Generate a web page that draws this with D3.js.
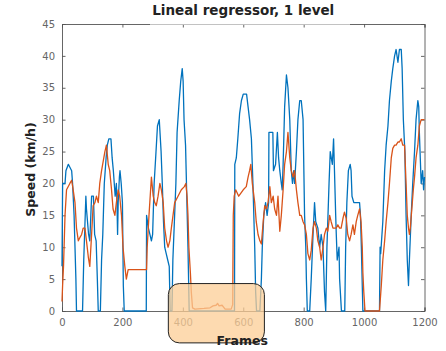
<!DOCTYPE html>
<html>
<head>
<meta charset="utf-8">
<script src="https://cdn.jsdelivr.net/npm/d3@7"></script>
<style>
  body { margin: 0; background: #fff; }
  text { font-family: 'DejaVu Sans', sans-serif; }
</style>
</head>
<body>
<div id="chart"></div>
<script>
// ground truth speed (blue)
const truthFrames = [0, 2, 10, 13, 21, 32, 35, 40, 46, 48, 68, 72, 79, 81, 88, 92, 98, 104, 108, 113, 117, 120, 127, 131, 135, 140, 146, 150, 155, 162, 166, 170, 173, 176, 180, 182, 184, 186, 190, 192, 196, 200, 203, 206, 279, 280, 286, 291, 296, 300, 305, 310, 316, 322, 328, 332, 336, 340, 345, 350, 355, 358, 364, 367, 372, 377, 381, 388, 393, 398, 401, 404, 409, 412, 417, 421, 571, 572, 577, 582, 588, 594, 600, 611, 616, 621, 627, 632, 638, 641, 644, 655, 660, 663, 668, 674, 679, 684, 685, 698, 700, 707, 713, 717, 721, 726, 729, 732, 737, 743, 748, 754, 759, 763, 767, 770, 776, 781, 787, 792, 798, 803, 807, 809, 812, 820, 825, 831, 836, 840, 847, 853, 858, 864, 869, 873, 877, 884, 888, 895, 899, 902, 906, 908, 911, 917, 919, 925, 936, 939, 943, 948, 954, 957, 960, 966, 979, 985, 988, 991, 996, 1051, 1053, 1055, 1062, 1068, 1073, 1079, 1084, 1090, 1095, 1101, 1106, 1112, 1117, 1123, 1126, 1130, 1135, 1139, 1143, 1147, 1150, 1156, 1161, 1167, 1172, 1178, 1181, 1183, 1189, 1194, 1197, 1200];
const truthSpeed = [7, 20, 20, 22, 23, 22, 20, 15, 5, 0, 0, 8, 18, 16, 12, 11, 18, 18, 12, 11, 5, 0, 0, 8, 12, 20, 24, 26, 27, 27, 24, 22, 20, 18, 20, 17, 12, 17, 21, 22, 20, 17, 4, 0, 0, 15, 13, 12, 11, 12, 20, 24, 29, 30, 25, 20, 14, 10, 9, 8, 7, 0, 0, 8, 14, 20, 28, 33, 36, 38, 36, 30, 26, 20, 10, 0, 0, 23, 24, 27, 31, 33, 34, 34, 32, 30, 27, 20, 10, 3, 0, 0, 5, 10, 15, 17, 15, 17, 28, 28, 22, 23, 28, 24, 22, 20, 19, 23, 32, 37, 35, 30, 22, 20, 22, 20, 25, 30, 33, 33, 30, 15, 10, 5, 0, 0, 5, 12, 17, 14, 13, 10, 12, 10, 3, 0, 10, 20, 25, 23, 27, 22, 15, 12, 8, 10, 5, 0, 0, 10, 17, 22, 23, 22, 18, 17, 17, 17, 15, 10, 0, 0, 10, 9, 14, 22, 26, 29, 33, 36, 38, 40, 41, 39, 41, 41, 38, 30, 25, 15, 8, 4, 8, 15, 20, 25, 30, 33, 32, 28, 20, 22, 19, 21];

// regressor prediction (orange)
const predFrames = [0, 2, 5, 10, 15, 26, 32, 37, 43, 48, 54, 59, 65, 70, 76, 81, 87, 92, 98, 103, 109, 114, 120, 125, 131, 142, 147, 153, 158, 164, 169, 175, 180, 186, 191, 197, 202, 208, 213, 219, 280, 282, 288, 296, 302, 307, 312, 318, 324, 329, 335, 340, 346, 351, 357, 362, 373, 384, 395, 405, 410, 414, 417, 420, 425, 428, 432, 440, 470, 490, 500, 510, 515, 520, 530, 540, 560, 565, 567, 570, 575, 585, 600, 610, 616, 621, 625, 630, 638, 643, 649, 655, 660, 666, 671, 677, 682, 688, 693, 699, 704, 710, 715, 721, 726, 732, 737, 743, 748, 754, 759, 765, 770, 776, 781, 787, 792, 798, 803, 809, 814, 820, 825, 831, 836, 842, 847, 853, 858, 864, 869, 875, 880, 886, 891, 897, 902, 908, 913, 919, 924, 930, 935, 941, 946, 952, 957, 963, 968, 974, 979, 985, 990, 994, 996, 999, 1003, 1051, 1057, 1062, 1068, 1073, 1079, 1084, 1090, 1095, 1101, 1106, 1112, 1117, 1123, 1128, 1134, 1139, 1143, 1147, 1150, 1153, 1158, 1163, 1167, 1172, 1178, 1183, 1189, 1200];
const predSpeed = [1.5, 4, 7, 15, 19, 20, 20.5, 19, 17, 13, 11, 11.5, 12, 13, 13, 11, 8.5, 7, 12, 16.5, 17, 18, 17, 20, 22, 25, 26, 23, 22, 19, 16, 15, 17, 19, 18, 15, 10, 7, 5, 6.5, 6.5, 10, 15, 21, 18, 17, 16.5, 18, 20, 19, 17, 13, 11, 10, 11, 13, 17, 18, 19, 19.5, 20, 18, 15, 10, 6, 3, 0.5, 0.3, 0.4, 0.5, 0.8, 0.9, 1.2, 0.8, 0.9, 0.3, 0.3, 1, 15, 18, 19, 18, 19, 19.5, 21, 22, 23, 20, 17, 14, 12, 11, 10.5, 14, 16.5, 16, 17, 19.5, 17, 18, 16, 15, 18, 12.5, 15, 19, 23, 25, 28, 24, 22, 21, 22, 19, 17, 15, 15, 14, 13.5, 12, 9, 8, 9.5, 13, 14, 13, 11, 10, 8, 10, 12, 13, 12.5, 15, 14, 13, 13, 13, 13.5, 13, 13, 14.5, 15.5, 14.5, 12, 11, 12, 13.5, 12, 14, 15, 16, 14, 10, 6, 3, 0, 0, 4, 8, 11, 14, 17, 20, 24, 25.5, 26, 26, 26.5, 26.5, 27, 26, 26, 20, 15, 13, 12, 13, 16, 19, 21, 24, 26, 29, 30, 30];

const xTicks = [0, 200, 400, 600, 800, 1000, 1200];
const yTicks = [0, 5, 10, 15, 20, 25, 30, 35, 40, 45];
// highlighted stretch (frames, speed)
const zoneFrames = [352, 670];
const zoneSpeed = [-5, 4.3];

drawChart(document.getElementById('chart'));

function drawChart(container) {
  const chartw = 446;
  const charth = 351;
  const margin = { top: 24, right: 21.5, bottom: 40, left: 62 };
  const width = chartw - margin.left - margin.right;
  const height = charth - margin.top - margin.bottom;

  const x = d3.scaleLinear().domain([0, 1200]).range([0, width]);
  const y = d3.scaleLinear().domain([0, 45]).range([height, 0]);

  const svg = d3.select(container).append('svg')
    .attr('width', chartw)
    .attr('height', charth)
    .append('g')
    .attr('transform', 'translate(' + margin.left + ',' + margin.top + ')');

  const axisColor = '#555';
  const fmt = d3.format('d');

  // bottom / left axes, ticks pointing inward
  const gx = svg.append('g')
    .attr('transform', 'translate(0,' + height + ')')
    .call(d3.axisBottom(x).tickValues(xTicks).tickFormat(fmt).tickSize(-3.5).tickPadding(8));
  const gy = svg.append('g')
    .call(d3.axisLeft(y).tickValues(yTicks).tickFormat(fmt).tickSize(-3.5).tickPadding(7));
  // top / right axes, ticks only
  const gt = svg.append('g')
    .call(d3.axisTop(x).tickValues(xTicks).tickSize(-3.5).tickFormat(''));
  const gr = svg.append('g')
    .attr('transform', 'translate(' + width + ',0)')
    .call(d3.axisRight(y).tickValues(yTicks).tickSize(-3.5).tickFormat(''));

  [gx, gy, gt, gr].forEach(function (g) {
    g.select('.domain').attr('stroke', axisColor).attr('stroke-width', 0.9);
    g.selectAll('.tick line').attr('stroke', axisColor).attr('stroke-width', 0.9);
  });
  [gx, gy].forEach(function (g) {
    g.selectAll('.tick text')
      .attr('fill', '#666')
      .style('font-family', "'DejaVu Sans', sans-serif")
      .style('font-size', '10px');
  });

  // lines
  const line = d3.line()
    .x(function (d) { return x(d[0]); })
    .y(function (d) { return y(d[1]); });

  svg.append('path')
    .datum(d3.zip(truthFrames, truthSpeed))
    .attr('fill', 'none')
    .attr('stroke', '#0072BD')
    .attr('stroke-width', 1.3)
    .attr('stroke-linejoin', 'round')
    .attr('d', line);

  svg.append('path')
    .datum(d3.zip(predFrames, predSpeed))
    .attr('fill', 'none')
    .attr('stroke', '#D95319')
    .attr('stroke-width', 1.3)
    .attr('stroke-linejoin', 'round')
    .attr('d', line);

  // highlight box
  svg.append('rect')
    .attr('x', x(zoneFrames[0]))
    .attr('y', y(zoneSpeed[1]))
    .attr('width', x(zoneFrames[1]) - x(zoneFrames[0]))
    .attr('height', y(zoneSpeed[0]) - y(zoneSpeed[1]))
    .attr('rx', 11)
    .attr('fill', 'rgb(252,205,150)')
    .attr('fill-opacity', 0.75)
    .attr('stroke', '#222')
    .attr('stroke-width', 1);

  // faded top border under the title
  svg.append('line')
    .attr('x1', 88).attr('x2', 288)
    .attr('y1', 0).attr('y2', 0)
    .attr('stroke', '#fff').attr('stroke-opacity', 0.6).attr('stroke-width', 2);

  // title and labels
  svg.append('text')
    .attr('x', width / 2)
    .attr('y', -9)
    .attr('text-anchor', 'middle')
    .style('font-size', '13.5px')
    .style('font-weight', 'bold')
    .attr('fill', '#222')
    .text('Lineal regressor, 1 level');

  svg.append('text')
    .attr('x', width / 2 - 1)
    .attr('y', height + 34)
    .attr('text-anchor', 'middle')
    .style('font-size', '12.5px')
    .style('font-weight', 'bold')
    .attr('fill', '#222')
    .text('Frames');

  svg.append('text')
    .attr('transform', 'translate(' + (-27) + ',' + (height / 2 + 2) + ') rotate(-90)')
    .attr('text-anchor', 'middle')
    .style('font-size', '12.5px')
    .style('font-weight', 'bold')
    .attr('fill', '#222')
    .text('Speed (km/h)');
}
</script>
</body>
</html>
